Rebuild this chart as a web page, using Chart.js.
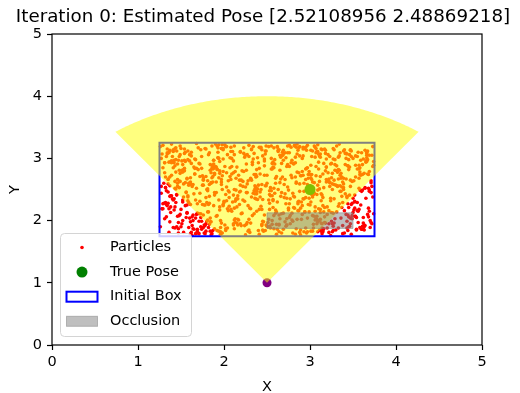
<!DOCTYPE html>
<html>
<head>
<meta charset="utf-8">
<title>Particle filter - iteration 0</title>
<script src="https://cdn.jsdelivr.net/npm/chart.js@4.4.0/dist/chart.umd.min.js"></script>
<style>
  html, body { margin: 0; padding: 0; background: #ffffff; }
  #wrap { width: 520px; height: 393px; }
</style>
</head>
<body>
<div id="wrap"><canvas id="pfChart" width="520" height="393"></canvas></div>
<script>
// particle cloud (x, y) spread over the initial box
const particleX = [
  2.87,1.43,3.12,2.05,1.78,3.66,2.41,1.29,3.04,2.73,1.95,3.48,2.16,1.62,3.27,2.94,1.37,2.58,3.71,1.86,2.29,3.15,1.53,2.81,3.39,2.02,1.71,3.58,2.47,1.34,2.99,3.22,1.91,2.64,3.53,1.48,2.25,3.09,1.67,2.76,
  3.31,1.82,2.53,3.69,1.27,2.38,3.01,1.59,2.92,3.45,2.11,1.74,3.19,2.68,1.41,3.62,2.23,1.98,2.85,3.36,1.55,2.44,3.73,1.32,2.07,3.08,2.61,1.89,3.51,2.32,1.46,2.79,3.25,1.64,2.14,3.42,1.99,2.56,3.13,1.38,
  2.19,3.57,1.76,2.97,1.31,3.28,2.49,1.85,3.64,2.34,1.57,2.83,3.11,1.69,2.42,3.74,2.06,1.44,3.35,2.71,1.92,3.03,2.27,1.52,3.47,2.89,1.36,2.62,3.18,1.81,2.51,3.67,1.28,2.09,3.39,2.77,1.65,3.24,2.36,1.94,
  3.06,1.51,2.66,3.43,1.79,2.31,3.59,1.42,2.88,3.14,2.03,1.73,3.32,2.57,1.26,2.95,3.49,1.88,2.21,3.71,1.61,2.48,3.07,1.35,2.74,3.29,1.97,2.39,3.63,1.54,2.12,3.21,1.83,2.69,3.46,1.39,2.91,3.02,1.68,2.45,
  1.47,2.84,3.38,1.93,2.55,3.16,1.33,2.72,3.55,2.17,1.77,3.09,2.43,1.58,3.68,2.26,1.96,2.98,3.34,1.45,2.63,3.26,1.84,2.37,3.72,1.29,2.08,3.44,2.59,1.72,3.05,2.33,1.49,2.86,3.61,2.01,1.63,3.17,2.52,1.37,
  2.78,3.52,1.66,2.28,3.37,1.43,2.93,3.12,1.87,2.46,3.66,1.56,2.15,3.27,2.67,1.32,3.01,2.39,1.81,3.58,2.54,1.26,2.82,3.41,1.95,2.13,3.23,1.69,2.97,3.48,1.41,2.35,3.06,1.76,2.61,3.73,1.53,2.04,3.33,2.89,
  1.91,2.42,3.62,1.35,2.75,3.19,1.62,2.24,3.54,2.87,1.48,3.08,2.58,1.78,3.42,2.11,1.39,2.94,3.29,1.86,2.49,3.67,1.57,2.32,3.14,1.98,2.73,3.47,1.27,2.65,3.03,1.74,2.19,3.56,2.44,1.61,3.25,2.83,1.44,3.11,
  3.45,2.07,1.58,2.91,3.28,1.82,2.36,3.69,1.31,2.62,3.15,2.02,1.71,3.51,2.79,1.49,2.27,3.36,1.92,2.53,3.07,1.64,2.96,3.61,2.16,1.38,3.22,2.71,1.83,3.46,2.09,1.52,2.85,3.31,1.97,2.41,3.72,1.33,2.57,3.18,
  2.23,1.69,3.37,2.64,1.41,3.04,2.48,1.89,3.57,2.31,1.54,2.99,3.26,1.79,2.14,3.63,2.76,1.46,3.09,2.38,1.87,3.43,2.59,1.28,2.92,3.20,1.65,2.47,3.68,1.93,2.18,3.34,1.51,2.81,3.12,1.75,2.56,3.53,2.05,1.36,
  3.65,2.33,1.77,3.02,2.68,1.43,3.39,2.12,1.84,2.95,3.24,1.59,2.42,3.74,1.30,2.86,3.13,2.01,1.68,3.49,2.55,1.94,3.05,2.29,1.47,3.32,2.74,1.81,2.16,3.58,1.37,2.63,3.21,1.99,2.46,3.44,1.56,2.88,3.10,1.72,
  1.52,2.97,3.33,1.86,2.22,3.60,2.70,1.42,3.17,2.51,1.95,3.41,2.06,1.63,2.89,3.27,1.34,2.58,3.70,2.15,1.80,3.06,2.44,1.49,3.52,2.78,1.91,2.35,3.15,1.60,2.93,3.47,2.10,1.73,3.36,2.60,1.39,3.00,2.25,1.85,
  2.82,3.21,1.45,2.53,3.64,1.97,2.30,3.10,1.58,2.76,3.42,1.76,2.17,3.55,2.65,1.29,3.08,2.40,1.88,3.30,2.71,1.50,2.98,3.62,2.03,1.67,3.19,2.50,1.36,2.87,3.45,1.83,2.26,3.73,1.61,2.68,3.04,1.94,2.37,3.50,
  1.40,3.14,2.61,1.90,3.48,2.20,1.70,2.90,3.35,2.45,1.32,3.66,2.08,1.55,2.84,3.23,1.98,2.56,3.03,1.44,2.73,3.57,2.28,1.82,3.11,2.64,1.35,3.40,2.13,1.66,2.95,3.28,1.89,2.39,3.69,1.53,2.80,3.16,2.00,1.78,
  3.26,2.48,1.62,3.00,2.69,1.38,3.53,2.24,1.92,2.80,3.12,1.51,2.36,3.67,2.04,1.74,3.29,2.57,1.46,2.92,3.44,2.14,1.85,3.07,2.62,1.30,3.38,2.77,1.99,2.32,3.60,1.64,2.50,3.20,1.41,2.96,3.35,1.87,2.20,3.71,
  2.11,1.57,3.47,2.66,1.96,3.10,2.38,1.48,3.63,2.84,1.75,3.24,2.52,1.33,2.99,3.40,2.09,1.67,3.18,2.75,1.43,3.56,2.27,1.90,3.02,2.60,1.54,3.33,2.83,1.27,2.43,3.65,1.79,2.18,3.09,2.70,1.60,3.46,2.35,1.97,
  3.58,2.00,1.84,2.74,3.30,1.50,2.47,3.70,1.65,2.21,3.13,2.90,1.40,3.37,2.56,1.93,3.05,2.30,1.71,3.61,2.67,1.37,2.94,3.22,1.80,2.41,3.52,2.08,1.56,3.16,2.79,1.47,3.43,2.12,1.88,2.85,3.28,1.63,2.55,3.01,
  1.69,2.91,3.32,2.19,1.52,3.50,2.63,1.81,3.07,2.40,1.31,3.69,2.81,1.99,3.25,2.50,1.45,2.97,3.43,2.05,1.76,3.15,2.69,1.58,3.59,2.29,1.92,3.03,2.54,1.35,3.34,2.86,1.70,2.13,3.64,2.44,1.49,3.12,2.77,1.86,
  2.95,3.40,1.55,2.34,3.20,1.87,2.72,3.62,1.43,2.58,3.04,1.79,2.26,3.49,2.88,1.60,3.11,2.37,1.95,3.74,2.03,1.39,2.80,3.28,1.73,2.47,3.55,2.10,1.62,3.00,2.67,1.28,3.39,2.22,1.84,2.93,3.19,1.50,2.60,3.66,
  1.83,2.56,3.17,1.48,2.88,3.54,2.12,1.66,3.31,2.45,1.94,3.06,2.73,1.37,3.45,2.19,1.78,2.99,3.60,2.31,1.54,3.23,2.64,1.88,3.13,2.38,1.44,3.68,2.85,1.97,2.16,3.36,1.59,2.69,3.08,1.76,2.42,3.50,2.02,1.32,
  3.21,2.75,1.61,2.11,3.57,2.49,1.85,3.09,2.33,1.42,3.39,2.82,1.68,2.25,3.65,1.96,2.53,3.02,1.34,2.90,3.47,2.07,1.72,3.27,2.60,1.46,3.14,2.40,1.89,3.56,2.76,1.57,2.20,3.33,1.80,2.65,3.00,1.41,2.98,3.44,
  2.44,3.63,1.58,2.06,3.29,1.92,2.71,3.48,1.36,2.88,3.17,2.23,1.75,3.54,2.59,1.47,3.02,2.35,1.83,3.71,2.64,1.29,2.97,3.25,1.68,2.12,3.59,2.52,1.41,3.08,2.79,1.96,2.27,3.42,1.55,2.91,3.14,1.73,2.48,3.67,
  1.88,3.06,2.62,1.39,3.35,2.18,1.71,2.96,3.52,2.41,1.63,3.19,2.83,1.31,2.54,3.66,2.09,1.85,3.27,2.74,1.49,3.44,2.31,1.94,3.01,2.67,1.37,3.58,2.15,1.79,2.92,3.33,2.04,1.59,3.12,2.57,1.97,3.49,2.38,1.45,
  3.38,2.28,1.66,2.86,3.61,1.99,2.45,3.15,1.53,2.73,3.41,2.01,1.82,3.22,2.66,1.34,3.05,2.47,1.91,3.72,2.19,1.62,2.89,3.31,1.76,2.55,3.53,2.13,1.43,3.09,2.81,1.57,2.34,3.64,1.87,2.61,3.24,1.51,2.99,3.46,
  2.03,1.74,3.13,2.58,1.46,3.37,2.92,1.81,2.26,3.57,2.69,1.54,3.04,2.37,1.98,3.45,2.14,1.67,2.84,3.26,1.33,2.51,3.68,2.08,1.89,3.11,2.76,1.42,3.34,2.22,1.69,2.95,3.55,1.93,2.43,3.18,2.65,1.38,3.03,2.32,
  3.52,2.57,1.84,3.23,2.12,1.48,2.78,3.43,1.95,2.36,3.07,1.61,2.93,3.69,2.24,1.77,3.32,2.49,1.35,2.87,3.16,2.02,1.72,3.60,2.68,1.52,3.01,2.29,1.86,3.47,2.11,1.64,2.82,3.38,1.99,2.53,3.10,1.44,2.72,3.26
];
const particleY = [
  2.31,1.88,3.07,2.64,1.79,2.95,2.18,3.21,2.47,1.93,2.76,3.12,2.02,2.58,1.84,3.16,2.39,2.85,1.97,2.69,3.03,2.24,1.81,2.91,2.53,3.19,2.11,1.89,2.73,3.09,2.36,1.95,2.62,3.14,2.07,2.81,1.77,2.49,2.98,2.27,
  2.88,2.14,1.91,3.05,2.44,2.71,1.83,2.57,3.18,2.21,2.96,1.99,2.66,3.10,2.33,1.86,2.79,2.50,3.23,2.04,2.61,1.94,2.87,2.29,3.01,2.42,1.78,2.74,2.17,3.15,2.55,2.01,2.92,1.87,2.68,3.08,2.26,2.83,1.96,2.40,
  3.11,2.52,2.09,1.82,2.77,2.35,3.20,2.60,1.92,2.99,2.13,2.70,3.04,1.80,2.46,2.89,2.23,3.17,2.56,1.98,2.82,2.38,3.06,2.00,2.65,1.85,2.94,2.30,3.13,2.48,1.90,2.75,2.19,3.00,2.59,2.08,2.86,1.76,2.43,3.22,
  2.15,2.80,3.02,2.37,1.95,2.67,2.25,2.93,1.81,3.14,2.54,2.05,2.78,2.32,3.19,1.88,2.63,2.97,2.12,2.45,1.79,3.07,2.72,2.28,2.90,2.03,3.16,2.51,1.93,2.84,2.20,2.64,3.09,1.86,2.41,2.96,2.10,2.74,3.24,2.34,
  1.97,2.62,2.29,3.10,2.83,1.87,2.48,3.01,2.16,2.73,1.93,2.57,3.18,2.40,2.06,2.91,1.78,2.68,2.27,3.12,2.50,1.95,2.81,2.35,3.05,2.19,2.66,1.84,2.98,2.44,3.20,2.08,2.76,2.30,1.91,2.87,2.55,3.15,2.02,2.70,
  2.93,2.07,2.75,1.83,2.39,3.16,2.60,2.13,2.88,1.98,3.08,2.46,2.22,2.99,1.80,2.70,3.13,2.34,2.01,2.85,2.53,1.90,3.21,2.43,2.17,2.79,3.03,1.86,2.58,2.26,2.95,2.11,3.18,2.65,1.94,2.38,2.82,3.06,2.23,1.77,
  2.45,3.17,1.96,2.59,2.20,2.86,3.04,2.31,1.85,2.77,2.53,3.11,2.08,1.92,2.67,2.41,3.23,2.14,2.90,1.79,2.56,2.98,2.25,3.14,1.88,2.72,2.36,2.04,3.00,2.61,1.83,2.84,2.47,3.10,2.18,2.69,1.99,2.93,2.29,2.63,
  2.06,2.71,2.98,2.24,3.14,1.89,2.51,2.79,2.03,3.19,2.37,1.84,2.92,2.64,2.12,3.06,1.97,2.47,2.83,2.28,3.16,2.09,1.80,2.74,2.40,2.95,2.16,3.09,2.58,1.91,2.87,2.33,2.02,3.20,2.66,1.78,2.55,3.03,2.21,2.80,
  3.08,2.27,2.54,1.94,2.85,2.42,3.12,1.87,2.68,2.19,2.97,2.50,1.82,3.15,2.34,2.76,2.05,2.91,3.22,2.15,2.62,1.99,2.44,3.07,2.73,2.10,1.86,2.99,2.52,3.17,2.26,2.81,1.95,2.39,3.02,2.57,2.00,2.89,2.48,1.81,
  2.36,2.94,1.80,2.66,3.05,2.22,2.50,2.01,2.90,3.18,2.32,1.89,2.75,2.11,2.60,3.13,2.43,1.93,2.84,2.28,3.00,2.69,2.07,1.85,2.97,2.56,3.20,2.14,2.35,2.78,1.98,3.11,2.63,2.24,1.83,2.88,2.45,3.04,2.19,2.71,
  2.90,2.04,2.67,3.20,2.33,1.86,2.58,2.97,2.21,1.97,2.80,3.08,2.46,1.76,2.72,2.12,3.15,2.52,2.00,2.86,2.29,3.02,1.92,2.63,2.41,3.18,2.07,2.74,1.84,2.96,2.35,2.55,3.11,1.90,2.68,2.17,2.93,2.44,3.05,1.98,
  2.20,2.77,1.90,2.48,3.13,2.62,1.81,2.94,2.38,3.21,2.10,2.69,2.01,2.83,3.05,2.27,1.95,2.57,2.91,1.85,2.43,3.16,2.74,2.05,2.32,1.79,2.99,2.60,3.09,2.16,2.82,1.94,2.45,3.19,2.26,2.70,1.88,3.00,2.54,2.13,
  3.03,2.41,2.14,2.87,1.78,2.65,3.17,2.30,2.73,1.99,2.53,3.10,2.18,2.95,1.87,2.61,3.22,2.40,2.08,2.78,1.93,2.89,2.24,3.06,2.51,1.82,2.67,3.14,2.03,2.84,2.37,1.96,2.76,3.01,2.15,2.59,1.80,2.92,2.31,3.16,
  2.50,1.84,2.92,2.25,3.07,2.13,2.70,1.92,3.20,2.44,2.02,2.81,2.56,3.12,2.19,1.86,2.98,2.34,2.66,3.04,2.09,2.49,1.77,2.87,3.18,2.28,2.62,1.95,2.79,2.38,3.09,2.00,2.73,2.22,1.89,3.13,2.47,2.83,2.11,2.64,
  1.93,2.68,3.14,2.39,2.00,2.83,2.47,3.03,1.85,2.60,2.26,2.91,3.19,2.06,2.52,1.80,2.75,2.33,3.08,2.17,2.88,1.97,2.59,3.23,2.42,2.12,2.80,1.88,3.02,2.55,2.23,2.94,1.83,2.65,3.11,2.37,2.04,2.86,2.48,1.96,
  2.74,2.29,1.83,3.09,2.57,2.18,2.96,1.89,2.43,2.80,3.15,2.02,2.35,2.70,1.94,3.01,2.61,2.20,1.79,2.90,2.45,3.12,2.14,2.67,1.99,2.84,2.31,3.18,2.05,2.53,2.97,1.87,2.39,3.06,2.24,2.78,2.58,1.92,3.20,2.30,
  2.12,3.00,2.55,1.95,2.78,2.36,3.13,2.64,2.03,1.84,2.93,2.49,2.21,3.16,2.69,1.91,2.41,2.85,3.07,2.16,2.57,1.82,2.97,2.32,2.73,3.21,2.08,2.62,1.88,2.46,3.04,2.27,2.82,1.97,2.52,3.14,2.10,2.71,2.35,2.89,
  2.83,2.16,3.10,2.44,1.88,2.71,2.27,2.99,2.52,3.17,1.94,2.37,2.81,2.08,2.59,3.06,1.85,2.74,2.22,2.95,3.19,2.40,1.99,2.65,2.11,2.88,3.03,2.30,1.81,2.56,2.92,2.19,3.12,2.63,2.04,2.47,2.86,1.90,2.68,3.01,
  2.39,2.92,2.06,2.63,3.19,1.86,2.50,2.75,2.14,3.04,2.33,2.01,2.87,2.56,1.90,3.10,2.25,2.79,2.47,1.96,3.15,2.62,2.09,2.84,1.83,2.43,2.98,2.20,3.07,2.58,1.93,2.76,2.29,3.13,2.02,2.66,2.38,3.00,1.87,2.53,
  3.06,2.49,1.98,2.77,2.18,3.12,2.61,1.82,2.90,2.35,2.68,3.20,2.10,2.54,2.96,1.89,2.42,3.03,2.24,2.72,1.95,2.85,2.31,3.16,2.60,2.07,1.79,2.93,2.45,2.15,3.09,2.67,1.92,2.82,2.50,2.03,2.74,3.14,2.26,2.88,
  2.58,1.90,3.12,2.37,2.81,1.84,2.66,3.03,2.19,2.47,1.97,3.17,2.72,2.05,2.91,1.80,2.43,3.08,2.28,2.61,1.93,2.85,3.21,2.13,2.52,1.87,2.97,2.33,3.11,2.07,2.69,1.82,2.45,3.00,2.24,2.79,1.95,3.14,2.56,2.10,
  2.97,2.22,1.86,2.73,3.09,2.46,1.99,2.84,2.30,3.18,2.06,2.62,1.78,2.93,2.40,3.05,2.15,2.77,1.91,2.54,3.20,2.27,2.68,1.83,2.89,2.11,3.13,2.49,1.96,2.71,2.35,3.02,1.88,2.60,2.18,2.94,3.16,2.03,2.82,2.42,
  1.92,2.64,2.99,2.16,2.49,3.14,1.85,2.75,2.38,2.03,2.90,3.22,2.26,1.81,2.67,3.07,2.44,2.09,2.86,1.95,2.57,3.10,2.20,2.80,1.89,2.48,3.04,2.31,2.63,1.98,2.92,2.12,3.19,2.53,1.84,2.71,2.36,2.96,2.14,3.06,
  2.77,3.03,2.32,1.87,2.60,2.21,3.15,2.51,1.94,2.83,2.12,3.08,2.45,2.70,1.80,2.98,2.35,2.04,3.18,2.59,2.26,1.90,2.74,3.11,2.41,2.00,2.87,2.17,3.23,2.55,1.83,2.66,2.29,3.01,2.50,1.96,2.81,2.22,3.12,2.65,
  2.20,2.86,1.98,2.55,3.20,2.08,2.73,1.88,2.95,2.36,3.09,2.62,1.82,2.47,3.02,2.25,2.78,1.93,2.66,3.17,2.14,2.42,2.91,1.86,3.05,2.30,2.69,2.02,2.84,3.13,1.95,2.58,2.38,1.79,2.99,2.18,3.07,2.51,1.91,2.76
];

const truePose = [3.0, 2.5];
const sensorPose = [2.5, 1.0];
const estimatedPose = [2.52108956, 2.48869218];
const initialBox = [1.25, 1.75, 3.75, 3.25];      // xmin, ymin, xmax, ymax
const occlusionBox = [2.5, 1.875, 3.5, 2.125];    // xmin, ymin, xmax, ymax
const fovRange = 3.0;
const fovAngles = [54, 126];                      // degrees
const axisTicks = [0, 1, 2, 3, 4, 5];
const legendLabels = ["Particles", "True Pose", "Initial Box", "Occlusion"];
const titleText = "Iteration 0: Estimated Pose [" + estimatedPose.join(" ") + "]";

const FONT = "'DejaVu Sans', sans-serif";
Chart.defaults.font.family = FONT;
Chart.defaults.color = "#000";

function px(chart, x, y) {
    return [chart.scales.x.getPixelForValue(x), chart.scales.y.getPixelForValue(y)];
}

function rectPath(ctx, chart, b) {
    const [x0, y0] = px(chart, b[0], b[1]);
    const [x1, y1] = px(chart, b[2], b[3]);
    ctx.beginPath();
    ctx.rect(x0, y1, x1 - x0, y0 - y1);
}

// box, field of view wedge and occlusion, on top of the points
const shapesPlugin = {
    id: "pfShapes",
    afterDatasetsDraw(chart) {
        const ctx = chart.ctx;
        const a = chart.chartArea;
        ctx.save();
        ctx.beginPath();
        ctx.rect(a.left, a.top, a.right - a.left, a.bottom - a.top);
        ctx.clip();

        rectPath(ctx, chart, initialBox);
        ctx.strokeStyle = "blue";
        ctx.lineWidth = 2;
        ctx.stroke();

        ctx.beginPath();
        const c = px(chart, sensorPose[0], sensorPose[1]);
        ctx.moveTo(c[0], c[1]);
        for (let d = fovAngles[0]; d <= fovAngles[1]; d += 0.5) {
            const r = d * Math.PI / 180;
            const p = px(chart, sensorPose[0] + fovRange * Math.cos(r), sensorPose[1] + fovRange * Math.sin(r));
            ctx.lineTo(p[0], p[1]);
        }
        ctx.closePath();
        ctx.fillStyle = "rgba(255, 255, 0, 0.5)";
        ctx.fill();

        rectPath(ctx, chart, occlusionBox);
        ctx.fillStyle = "rgba(128, 128, 128, 0.5)";
        ctx.fill();
        ctx.strokeStyle = "rgba(128, 128, 128, 0.5)";
        ctx.lineWidth = 1;
        ctx.stroke();
        ctx.restore();
    },
    afterDraw(chart) {
        const ctx = chart.ctx;
        const a = chart.chartArea;
        ctx.save();
        ctx.strokeStyle = "#000";
        ctx.lineWidth = 1.2;
        ctx.strokeRect(a.left, a.top, a.right - a.left, a.bottom - a.top);

        // title, centred over the axes like matplotlib
        ctx.fillStyle = "#000";
        ctx.font = "18.3px " + FONT;
        ctx.textAlign = "center";
        ctx.textBaseline = "middle";
        ctx.fillText(titleText, (a.left + a.right) / 2 - 4, 17);

        // legend, lower left
        const lx = a.left + 8.5, ly = a.bottom - 111.5;
        ctx.beginPath();
        ctx.roundRect(lx, ly, 131, 103, 4);
        ctx.fillStyle = "rgba(255, 255, 255, 0.8)";
        ctx.fill();
        ctx.strokeStyle = "#d4d4d4";
        ctx.lineWidth = 1;
        ctx.stroke();

        const hx = lx + 21.5;
        const rowY = (i) => ly + 14 + i * 24.6;

        ctx.beginPath();
        ctx.arc(hx, rowY(0), 1.8, 0, Math.PI * 2);
        ctx.fillStyle = "red";
        ctx.fill();

        ctx.beginPath();
        ctx.arc(hx, rowY(1), 5.5, 0, Math.PI * 2);
        ctx.fillStyle = "green";
        ctx.fill();

        ctx.strokeStyle = "blue";
        ctx.lineWidth = 2;
        ctx.strokeRect(hx - 15.5, rowY(2) - 5, 31, 10);

        ctx.fillStyle = "rgba(128, 128, 128, 0.5)";
        ctx.fillRect(hx - 15.5, rowY(3) - 5, 31, 10);
        ctx.strokeStyle = "rgba(128, 128, 128, 0.5)";
        ctx.lineWidth = 1;
        ctx.strokeRect(hx - 15.5, rowY(3) - 5, 31, 10);

        ctx.fillStyle = "#000";
        ctx.font = "14.5px " + FONT;
        ctx.textAlign = "left";
        legendLabels.forEach((t, i) => ctx.fillText(t, lx + 49.5, rowY(i)));
        ctx.restore();
    }
};

const tickFont = { family: FONT, size: 14.5 };

new Chart(document.getElementById("pfChart"), {
    type: "scatter",
    data: {
        datasets: [
            {
                label: "Sensor",
                data: [{ x: sensorPose[0], y: sensorPose[1] }],
                backgroundColor: "purple",
                borderWidth: 0,
                pointRadius: 4.5,
                order: 1
            },
            {
                label: legendLabels[1],
                data: [{ x: truePose[0], y: truePose[1] }],
                backgroundColor: "green",
                borderWidth: 0,
                pointRadius: 5.5,
                order: 2
            },
            {
                label: legendLabels[0],
                data: particleX.map((x, i) => ({ x: x, y: particleY[i] })),
                backgroundColor: "red",
                borderWidth: 0,
                pointRadius: 1.8,
                order: 3
            }
        ]
    },
    options: {
        responsive: false,
        devicePixelRatio: 1,
        animation: false,
        events: [],
        layout: { padding: { left: 0, right: 38, top: 34, bottom: 0 } },
        scales: {
            x: {
                type: "linear",
                min: 0,
                max: 5,
                afterBuildTicks: (s) => { s.ticks = axisTicks.map((v) => ({ value: v })); },
                afterFit: (s) => { s.height = 48; },
                ticks: { font: tickFont, color: "#000", padding: 4 },
                grid: { drawOnChartArea: false, drawTicks: true, tickLength: 5, tickColor: "#000", tickWidth: 1.2 },
                border: { display: false },
                title: { display: true, text: "X", font: tickFont, color: "#000", padding: { top: 0, bottom: -3 } }
            },
            y: {
                type: "linear",
                min: 0,
                max: 5,
                afterBuildTicks: (s) => { s.ticks = axisTicks.map((v) => ({ value: v })); },
                afterFit: (s) => { s.width = 52; },
                ticks: { font: tickFont, color: "#000", padding: 5 },
                grid: { drawOnChartArea: false, drawTicks: true, tickLength: 5, tickColor: "#000", tickWidth: 1.2 },
                border: { display: false },
                title: { display: true, text: "Y", font: tickFont, color: "#000", padding: { top: 7, bottom: 0 } }
            }
        },
        plugins: {
            legend: { display: false },
            tooltip: { enabled: false },
            title: { display: false }
        }
    },
    plugins: [shapesPlugin]
});
</script>
</body>
</html>
